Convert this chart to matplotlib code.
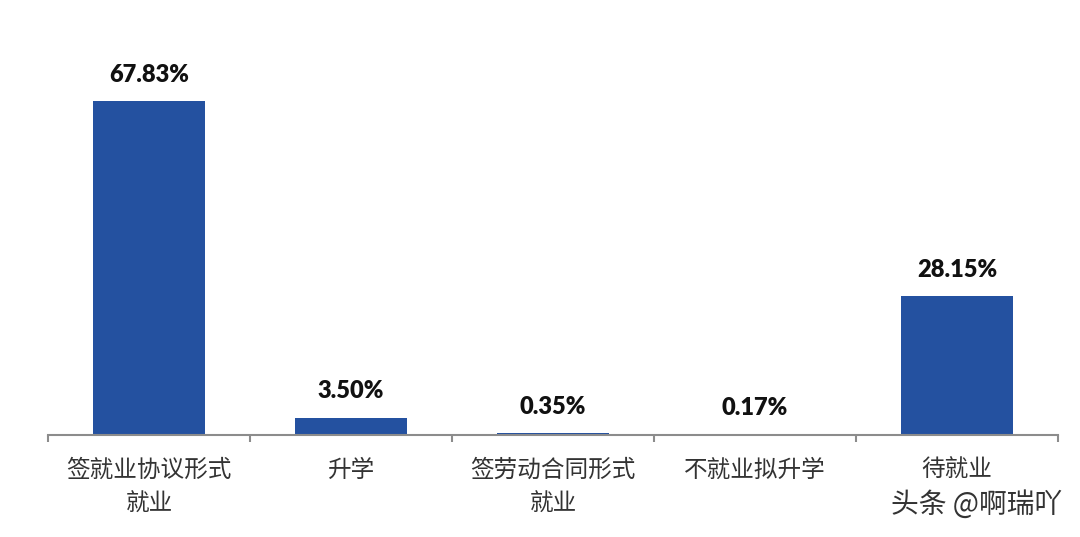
import matplotlib
matplotlib.use("Agg")
import matplotlib.pyplot as plt

plt.rcParams['font.family'] = ['Noto Sans CJK SC', 'DejaVu Sans']

categories = ["签就业协议形式\n就业", "升学", "签劳动合同形式\n就业", "不就业拟升学", "待就业"]
values = [67.83, 3.50, 0.35, 0.17, 28.15]
value_labels = ["67.83%", "3.50%", "0.35%", "0.17%", "28.15%"]

fig = plt.figure(figsize=(10.8, 5.37), dpi=100)
ax = fig.add_axes([48/1080, 102/537, 1010/1080, 394/537])

x = list(range(len(categories)))
ax.bar(x, values, width=0.55, color="#2451A0")
ax.set_xlim(-0.5, len(categories) - 0.5)
ax.set_ylim(0, 80)

for xi, v, lab in zip(x, values, value_labels):
    ax.annotate(lab, (xi, v), xytext=(0, 11), textcoords="offset points",
                ha="center", va="bottom", fontsize=17, fontweight="heavy",
                family=["Lato", "DejaVu Sans"], color="#111111")

for s in ["top", "right", "left"]:
    ax.spines[s].set_visible(False)
ax.spines["bottom"].set_color("#8c8c8c")
ax.spines["bottom"].set_linewidth(1.5)
ax.spines["bottom"].set_zorder(3)
ax.set_yticks([])
ax.set_xticks(x)
ax.set_xticklabels(categories, fontsize=17, color="#333333", linespacing=1.65,
                   fontweight="light")
ax.tick_params(axis="x", which="major", length=0, pad=17)
ax.set_xticks([i - 0.5 for i in range(len(categories) + 1)], minor=True)
ax.tick_params(axis="x", which="minor", length=5, width=1.5, color="#8c8c8c", direction="out")

fig.text(1062/1080, 32/537, "头条 @啊瑞吖", ha="right", va="center", fontsize=20, color="#333333")

fig.savefig("out.png", dpi=100, facecolor="white")
